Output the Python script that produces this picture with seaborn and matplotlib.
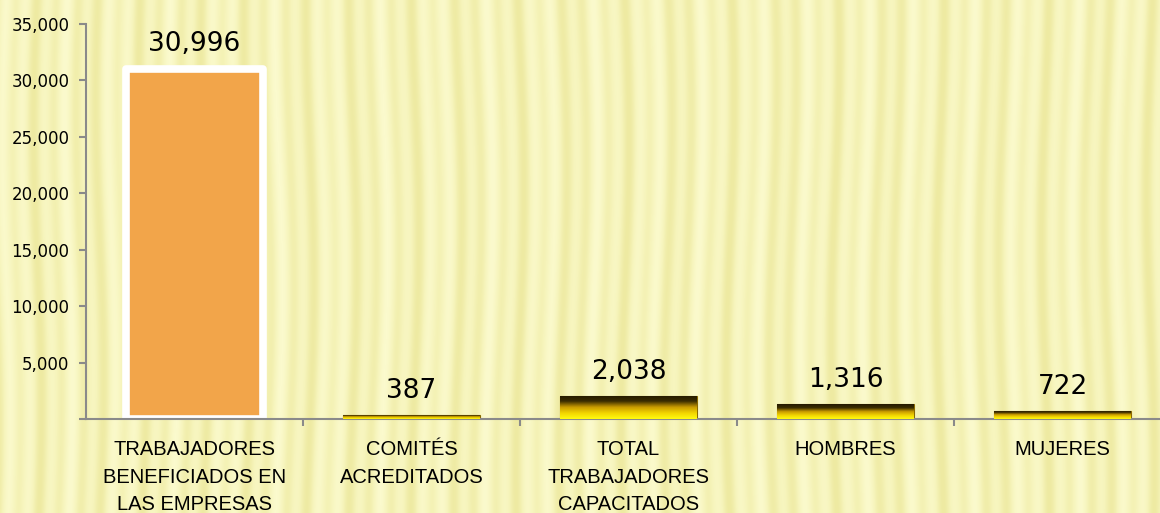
import numpy as np
import pandas as pd
import matplotlib
matplotlib.use("Agg")
import matplotlib.pyplot as plt
import seaborn as sns
from matplotlib.colors import LinearSegmentedColormap

categorias = [
    "TRABAJADORES\nBENEFICIADOS EN\nLAS EMPRESAS",
    "COMITÉS\nACREDITADOS",
    "TOTAL\nTRABAJADORES\nCAPACITADOS",
    "HOMBRES",
    "MUJERES",
]
valores = [30996, 387, 2038, 1316, 722]
y_ticks = [0, 5000, 10000, 15000, 20000, 25000, 30000, 35000]

sns.set_style("white")
plt.rcParams["font.family"] = ["DejaVu Sans"]

df = pd.DataFrame({"categoria": categorias, "valor": valores})

fig = plt.figure(figsize=(11.6, 5.13), dpi=100)

# fondo amarillo con rayas verticales
bg = fig.add_axes([0, 0, 1, 1], zorder=-5)
xx, yy = np.meshgrid(np.arange(1160), np.arange(513))
wave = xx + 4 * np.sin(yy / 90.0 + xx / 200.0)
s = 0.5 + 0.5 * np.sin(2 * np.pi * wave / 21.0)
s = 0.6 * s + 0.4 * (0.5 + 0.5 * np.sin(2 * np.pi * wave / 53.0))
bg_cmap = LinearSegmentedColormap.from_list("bg", ["#eeeaa2", "#f6f4bb", "#fbfacd"])
bg.imshow(s, cmap=bg_cmap, aspect="auto", extent=[0, 1, 0, 1])
bg.set_axis_off()

ax = fig.add_axes([86 / 1160, 94 / 513, 1085 / 1160, 395 / 513])
ax.patch.set_alpha(0)

sns.barplot(data=df, x="categoria", y="valor", hue="categoria", legend=False,
            palette=["#f2a54a", "#f0cc00", "#f0cc00", "#f0cc00", "#f0cc00"],
            width=0.63, saturation=1, ax=ax)

gold = LinearSegmentedColormap.from_list(
    "gold", ["#fffb10", "#f2d400", "#c89a00", "#3a2c00", "#241a00"])
for i, p in enumerate(ax.patches):
    if i == 0:
        p.set_edgecolor("white")
        p.set_linewidth(5.5)
        p.set_joinstyle("round")
    else:
        x0, w, h = p.get_x(), p.get_width(), p.get_height()
        grad = np.linspace(0, 1, 64).reshape(-1, 1)
        im = ax.imshow(grad, cmap=gold, aspect="auto", origin="lower",
                       extent=[x0, x0 + w, 0, h], zorder=3)
        im.set_clip_path(p)
        p.set_edgecolor("#8a6a00")
        p.set_linewidth(0.8)
ax.set_xlim(-0.5, 4.5)
ax.set_ylim(0, 35000)

for cont, v in zip(ax.containers, valores):
    ax.bar_label(cont, labels=[f"{v:,}"], padding=9 if v > 5000 else 8,
                 fontsize=19, family="DejaVu Sans", color="black")

ax.set_yticks(y_ticks)
ax.set_yticklabels([""] + [f"{t:,}" for t in y_ticks[1:]],
                   fontsize=12, family="DejaVu Sans", color="black")
ax.set_xticks(range(len(categorias)))
ax.set_xticklabels(categorias, fontsize=14.5, family="Liberation Sans",
                   linespacing=1.58, color="black")
ax.set_xticks([0.5, 1.5, 2.5, 3.5], minor=True)
ax.tick_params(axis="x", which="major", length=0, pad=15)
ax.tick_params(axis="x", which="minor", length=5, width=1.5, color="#8a8a8a",
               direction="out", bottom=True)
ax.tick_params(axis="y", length=5, width=1.5, color="#8a8a8a", pad=7, left=True)

for side in ["top", "right"]:
    ax.spines[side].set_visible(False)
for side in ["left", "bottom"]:
    ax.spines[side].set_color("#8a8a8a")
    ax.spines[side].set_linewidth(1.5)

ax.set_xlabel("")
ax.set_ylabel("")

fig.savefig("out.png", dpi=100)
